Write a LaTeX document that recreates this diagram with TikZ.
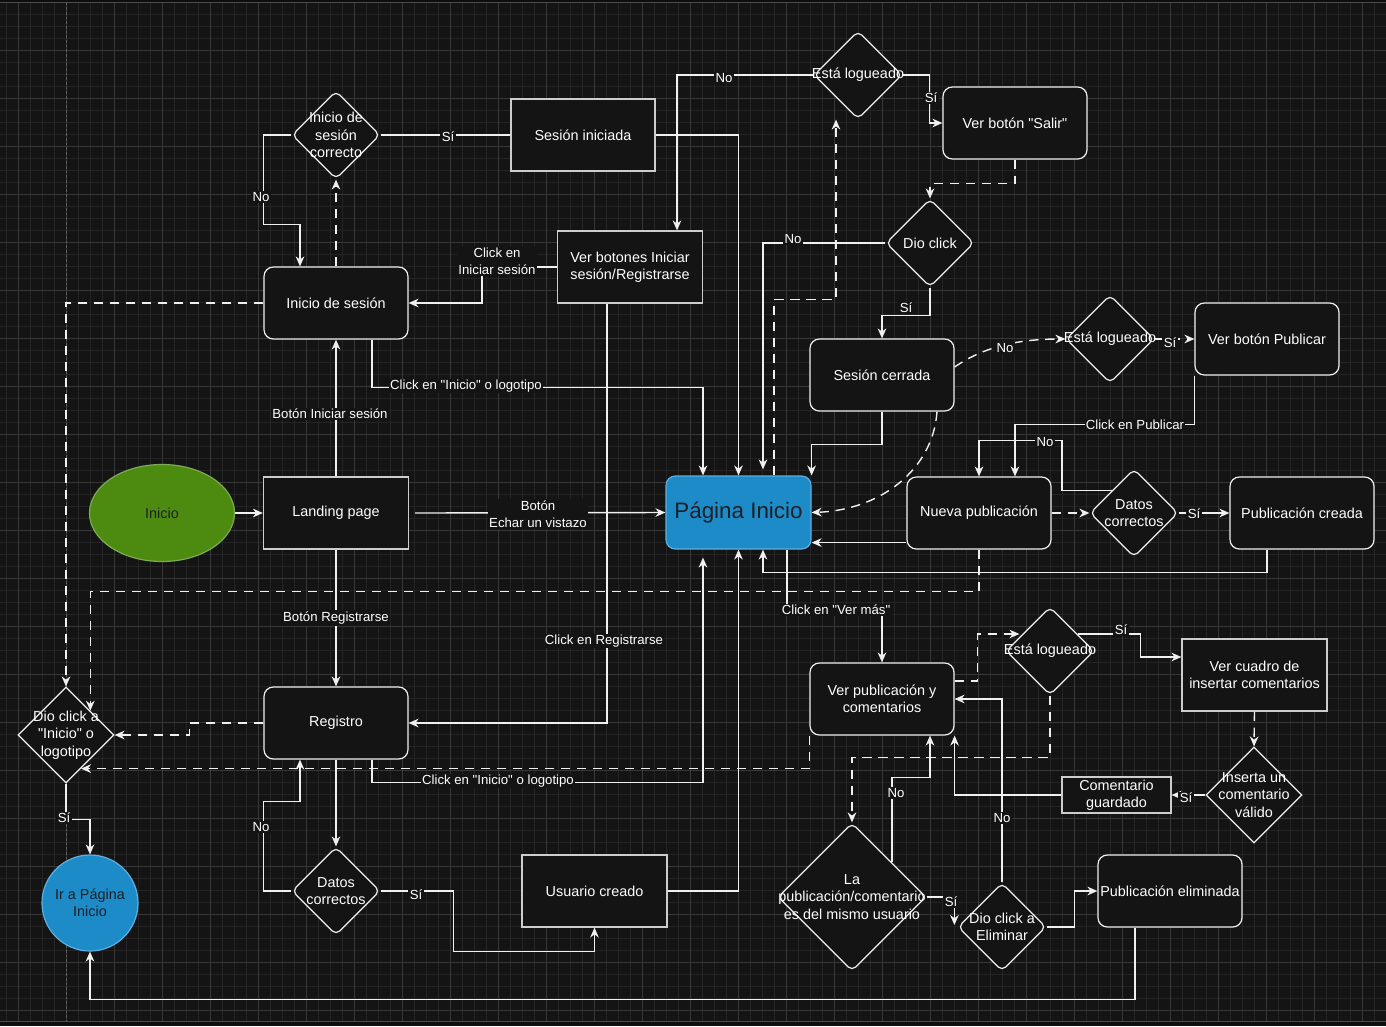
\documentclass[tikz,border=0pt]{standalone}
\usepackage{fontspec}
\setmainfont{Liberation Sans}[Ligatures=TeXOff]
\usetikzlibrary{shapes.geometric,arrows.meta,calc}
\definecolor{bgc}{RGB}{20,20,20}
\definecolor{gmin}{RGB}{36,36,36}
\definecolor{gmaj}{RGB}{56,56,56}
\definecolor{lc}{RGB}{240,240,240}
\definecolor{sqc}{RGB}{205,205,205}
\definecolor{grn}{RGB}{77,138,16}
\definecolor{grnb}{RGB}{125,170,85}
\definecolor{blu}{RGB}{28,139,199}
\definecolor{blub}{RGB}{95,175,225}
\definecolor{dtx}{RGB}{28,32,38}
\definecolor{pgl}{RGB}{95,95,95}
\newcommand{\nodefs}{\fontsize{10.8pt}{13pt}\selectfont}
\newcommand{\labfs}{\fontsize{9.9pt}{12.6pt}\selectfont}
\newcommand{\bigfs}{\fontsize{16.8pt}{20pt}\selectfont}
\pgfdeclarelayer{gridl}
\pgfdeclarelayer{edgel}
\pgfsetlayers{gridl,edgel,main}
\begin{document}
\begin{tikzpicture}[x=0.75pt,y=-0.75pt,
 rbox/.style={rectangle, rounded corners=7pt, draw=lc, fill=bgc, line width=0.9pt, minimum width=108pt, minimum height=54pt, inner sep=0pt, text=white, font=\nodefs, align=center},
 sbox/.style={rbox, sharp corners, draw=sqc},
 dia/.style={diamond, draw=lc, fill=bgc, line width=0.9pt, rounded corners=4pt, inner sep=0pt, minimum width=66pt, minimum height=66pt},
 sdia/.style={dia, sharp corners},
 dtxt/.style={text=white, font=\nodefs, align=center, inner sep=0pt},
 conn/.style={draw=lc, line width=1.05pt, -{Stealth[length=7.5pt,width=6.5pt,inset=2.4pt]}},
 dconn/.style={conn, dash pattern=on 7pt off 5pt},
 plain/.style={draw=lc, line width=1.05pt},
 elab/.style={fill=bgc, text=white, font=\labfs, inner sep=1pt, align=center},
]
\useasboundingbox (0,0) rectangle (1386,1026);
\begin{pgfonlayer}{gridl}
\fill[black!95] (0,0) rectangle (1386,1026);
\fill[bgc] (0,2.7) rectangle (1386,1021.7);
\foreach \i in {0,...,115} {\draw[gmin,line width=0.4pt] ({6.5+12*\i},2.7) -- ({6.5+12*\i},1021.7);}
\foreach \i in {0,...,84} {\draw[gmin,line width=0.4pt] (0,{2.3+12*\i}) -- (1386,{2.3+12*\i});}
\foreach \i in {0,...,28} {\draw[gmaj,line width=0.5pt] ({18.5+48*\i},2.7) -- ({18.5+48*\i},1021.7);}
\foreach \i in {1,...,21} {\draw[gmaj,line width=0.5pt] (0,{2.3+48*\i}) -- (1386,{2.3+48*\i});}
\draw[pgl,line width=0.5pt,dash pattern=on 2pt off 1.5pt] (66.5,2.7) -- (66.5,1021.7);
\draw[black!70!white,line width=0.6pt] (0,2.7) -- (1386,2.7);
\draw[black!70!white,line width=0.6pt] (0,1021.7) -- (1386,1021.7);
\end{pgfonlayer}

% nodes
\node[dia] (dlc) at (336,135) {};
\node[dtxt] (dlct) at (dlc) {Inicio de\\sesión\\correcto};
\node[sbox] (si) at (583,135) {Sesión iniciada};
\node[dia] (el1) at (858,75) {};
\node[dtxt] (el1t) at (el1) {Está logueado};
\node[rbox] (vs) at (1015,123) {Ver botón "Salir"};
\node[dia] (dc) at (930,243) {};
\node[dtxt] (dct) at (dc) {Dio click};
\node[sbox, minimum width=108.75pt] (vb) at (630,267) {Ver botones Iniciar\\sesión/Registrarse};
\node[rbox] (is) at (336,303) {Inicio de sesión};
\node[rbox] (sc) at (882,375) {Sesión cerrada};
\node[dia] (el2) at (1110,339) {};
\node[dtxt] (el2t) at (el2) {Está logueado};
\node[rbox] (vp) at (1267,339) {Ver botón Publicar};
\node[sbox, minimum width=108.75pt] (lp) at (336,513) {Landing page};
\node[ellipse, draw=grnb, fill=grn, line width=0.9pt, minimum width=108.75pt, minimum height=72.75pt, inner sep=0pt, text=dtx, font=\nodefs] (ini) at (162,513) {Inicio};
\node[rbox, draw=blub, fill=blu, text=dtx, font=\bigfs, minimum width=108.75pt, minimum height=54.75pt] (pi) at (738.5,512.5) {Página Inicio};
\node[rbox] (np) at (979,513) {Nueva publicación};
\node[dia] (dc2) at (1134,513) {};
\node[dtxt] (dc2t) at (dc2) {Datos\\correctos};
\node[rbox] (pc) at (1302,513) {Publicación creada};
\node[sdia, minimum width=72pt, minimum height=72pt] (dl) at (66,735) {};
\node[dtxt] (dlt) at (dl) {Dio click a\\"Inicio" o\\logotipo};
\node[rbox] (reg) at (336,723) {Registro};
\node[circle, draw=blub, fill=blu, line width=0.9pt, minimum size=72pt, inner sep=0pt, text=dtx, font=\nodefs, align=center] (ir) at (90,903) {Ir a Página\\Inicio};
\node[dia] (dc1) at (336,891) {};
\node[dtxt] (dc1t) at (dc1) {Datos\\correctos};
\node[sbox, minimum width=108.75pt] (uc) at (594.5,891) {Usuario creado};
\node[rbox] (vpc) at (882,699) {Ver publicación y\\comentarios};
\node[dia] (el3) at (1050,651) {};
\node[dtxt] (el3t) at (el3) {Está logueado};
\node[sbox, minimum width=108.75pt] (vci) at (1254.5,675) {Ver cuadro de\\insertar comentarios};
\node[sdia, minimum width=72pt, minimum height=72pt] (icv) at (1254,795) {};
\node[dtxt] (icvt) at (icv) {Inserta un\\comentario\\válido};
\node[sbox, minimum width=81.75pt, minimum height=27pt] (cg) at (1116.5,795) {Comentario\\guardado};
\node[dia, minimum width=111pt, minimum height=111pt] (lpc) at (852,897) {};
\node[dtxt] (lpct) at (lpc) {La\\publicación/comentario\\es del mismo usuario};
\node[dia] (dce) at (1002,927) {};
\node[dtxt] (dcet) at (dce) {Dio click a\\Eliminar};
\node[rbox] (pe) at (1170,891) {Publicación eliminada};

% edges
\begin{pgfonlayer}{edgel}
\draw[conn] (ini.east) -- (lp.west);
\draw[conn] ($(lp.east)+(6,0)$) -- (pi.west);
\draw[conn] (lp.north) -- (is.south);
\draw[conn] (lp.south) -- (reg.north);
\draw[dconn] (is.north) -- (dlc.south);
\draw[conn] (dlc.west) -| ($(is.north west)+(0,-42)$) -| ($(is.north)+(-36,0)$);
\draw[plain] (dlc.east) -- (si.west);
\draw[conn] (si.east) -| (pi.north);
\draw[conn] (el1.west) -| ($(vb.north)+(47,0)$);
\draw[conn] (el1.east) -- ++(27,0) |- (vs.west);
\draw[dconn] (vs.south) -- ++(0,24) -| (dc.north);
\draw[conn] (dc.west) -| ($(pi.north)+(24.5,-6)$);
\draw[conn] (dc.south) -- ++(0,28) -| (sc.north);
\draw[dconn] ($(pi.north)+(35.5,0)$) |- ($(el1.south)+(-22,180)$) -- ($(el1.south)+(-22,0)$);
\draw[conn] (sc.south) -- ++(0,33) -| (pi.north east);
\draw[dconn] ($(sc.east)+(0,-8)$) .. controls (985,346) and (1020,339) .. (el2.west);
\draw[dconn] ($(sc.south)+(55,0)$) .. controls (933,470) and (880,510) .. (pi.east);
\draw[dconn] (el2.east) -- (vp.west);
\draw[conn] (vp.south west) |- ($(np.north)+(36,-52)$) -- ($(np.north)+(36,0)$);
\draw[conn] (dc2.north west) -| ($(np.north)+(83,-36)$) -| (np.north);
\draw[dconn] (np.east) -- (dc2.west);
\draw[conn] (dc2.east) -- (pc.west);
\draw[conn] ($(pc.south)+(-35,0)$) -- ++(0,23) -| ($(pi.south)+(24.5,0)$);
\draw[conn] ($(np.south west)+(0,-7)$) -- ($(pi.south east)+(0,-7)$);
\draw[dconn] (np.south) -- ++(0,42) -| ($(dl.north)!0.5!(dl.east)$);
\draw[dconn] (is.west) -| (dl.north);
\draw[dconn] (reg.west) -- ++(-74,0) |- (dl.east);
\draw[dconn] (vpc.south west) |- ($(dl.south)+(15,-15)$);
\draw[conn] ($(reg.south)+(36,0)$) -- ++(0,23) -| ($(pi.south)+(-35.5,8)$);
\draw[conn] ($(is.south)+(36,0)$) -- ++(0,48) -| ($(pi.north)+(-35.5,0)$);
\draw[conn] (vb.west) -- ++(-75,0) |- (is.east);
\draw[conn] ($(vb.south)+(-23,0)$) |- (reg.east);
\draw[conn] (uc.east) -| (pi.south);
\draw[conn] (reg.south) -- (dc1.north);
\draw[conn] (dc1.west) -| ($(reg.south west)+(0,42)$) -| ($(reg.south)+(-36,0)$);
\draw[conn] (dc1.east) -- ++(73,0) |- ($(uc.south)+(0,24)$) -- (uc.south);
\draw[conn] (dl.south) -- ++(0,36) -| (ir.north);
\draw[conn] ($(pe.south)+(-35,0)$) |- ($(ir.south)+(0,48)$) -- (ir.south);
\draw[conn] ($(pi.south)+(48.5,0)$) |- ($(vpc.north)+(0,-53)$) -- (vpc.north);
\draw[dconn] ($(vpc.east)+(0,-18)$) -- ++(23,0) |- ($(el3.west)+(14,-17)$);
\draw[dconn] (el3.south) |- ($(lpc.north)+(0,-65)$) -- (lpc.north);
\draw[conn] ($(el3.east)+(-17,-17)$) -- ++(63,0) |- ($(vci.west)+(0,-18)$);
\draw[dconn] (vci.south) -- (icv.north);
\draw[conn] (icv.west) -- (cg.east);
\draw[conn] (cg.west) -| (vpc.south east);
\draw[conn] ($(lpc.north)+(40,40)$) |- ($(vpc.south)+(48,42)$) -- ($(vpc.south)+(48,0)$);
\draw[conn] (lpc.east) -| ($(dce.west)+(-3,-2)$);
\draw[conn] (dce.north) |- (vpc.east);
\draw[conn] (dce.east) -- ++(28,0) |- (pe.west);
\end{pgfonlayer}

% edge labels
\node[elab] (l1) at (448,137) {Sí};
\node[elab] (l2) at (261,197) {No};
\node[elab] (l3) at (724,78) {No};
\node[elab] (l4) at (931,98) {Sí};
\node[elab] (l5) at (793,239) {No};
\node[elab] (l6) at (906,308) {Sí};
\node[elab] (l7) at (497,261) {Click en\\Iniciar sesión};
\node[elab] (l8) at (330,414) {Botón Iniciar sesión};
\node[elab] (l9) at (466,386) {Click en "Inicio" o logotipo};
\node[elab] (l10) at (538,514) {Botón\\Echar un vistazo};
\node[elab] (l11) at (1005,348) {No};
\node[elab] (l12) at (1170,343) {Sí};
\node[elab] (l13) at (1135,425) {Click en Publicar};
\node[elab] (l14) at (1045,442) {No};
\node[elab] (l15) at (1194,514) {Sí};
\node[elab] (l16) at (336,618) {Botón Registrarse};
\node[elab] (l17) at (604,641) {Click en Registrarse};
\node[elab] (l18) at (836,610) {Click en "Ver más"};
\node[elab] (l19) at (498,781) {Click en "Inicio" o logotipo};
\node[elab] (l20) at (261,827) {No};
\node[elab] (l21) at (416,895) {Sí};
\node[elab] (l22) at (64,818) {Sí};
\node[elab] (l23) at (1121,630) {Sí};
\node[elab] (l24) at (1186,798) {Sí};
\node[elab] (l25) at (896,793) {No};
\node[elab] (l26) at (1002,818) {No};
\node[elab] (l27) at (951,902) {Sí};
\end{tikzpicture}
\end{document}
